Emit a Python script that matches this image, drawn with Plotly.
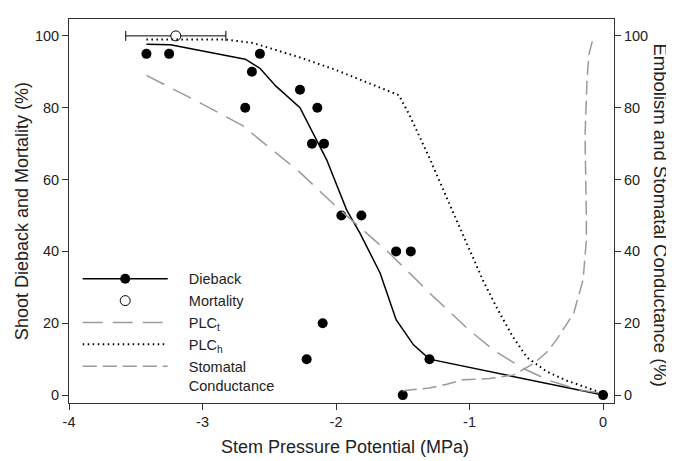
import plotly.graph_objects as go

# Dieback observations
dieback_x = [-3.42, -3.25, -2.68, -2.63, -2.57, -2.27, -2.18, -2.14, -2.09, -2.22, -2.10,
             -1.96, -1.81, -1.55, -1.44, -1.50, -1.30, 0.0]
dieback_y = [95, 95, 80, 90, 95, 85, 70, 80, 70, 10, 20, 50, 50, 40, 40, 0, 10, 0]

# Dieback fitted curve
fit_x = [-3.42, -3.24, -2.68, -2.57, -2.45, -2.27, -2.07, -1.92, -1.82, -1.67, -1.55, -1.42, -1.30, 0.0]
fit_y = [97.7, 97.5, 93.5, 91.0, 86.0, 80.0, 65.5, 51.5, 45.0, 34.0, 21.0, 14.0, 10.0, 0.0]

# Mortality (mean +/- error)
mort_x = [-3.20]
mort_y = [100]
mort_err = [0.375]

# PLC_t
plct_x = [-3.42, -3.0, -2.7, -2.5, -2.27, -2.0, -1.8, -1.6, -1.27, -1.0, -0.8, -0.6, -0.4, -0.17, 0.0]
plct_y = [89, 81, 75, 69, 62, 52.5, 46, 39.5, 27.4, 18, 12, 7.5, 4, 1.4, 0.5]

# PLC_h
plch_x = [-3.42, -2.83, -2.62, -2.27, -2.0, -1.67, -1.53, -1.45, -1.3, -1.16, -1.02, -0.9, -0.8,
          -0.68, -0.57, -0.42, -0.27, -0.12, 0.0]
plch_y = [99, 99, 98, 94, 90.5, 85.5, 83.5, 78, 66, 54, 42, 32, 24.6, 16.5, 10.5, 6.5, 4, 2, 0.5]

# Stomatal conductance
gs_x = [-1.50, -1.30, -1.17, -1.05, -0.85, -0.67, -0.52, -0.42, -0.35, -0.22, -0.15, -0.125,
        -0.125, -0.135, -0.12, -0.105, -0.07]
gs_y = [1.2, 2.0, 3.0, 4.3, 4.6, 5.6, 8.8, 12, 15.3, 22.8, 32, 43, 50, 72, 88, 95, 100]

x_ticks = [-4, -3, -2, -1, 0]
x_tick_labels = ["-4", "-3", "-2", "-1", "0"]
y_ticks = [0, 20, 40, 60, 80, 100]
y_tick_labels = ["0", "20", "40", "60", "80", "100"]

GRAY = "#9a9a9a"
AX = "#333333"
FONT = "Liberation Sans, Arial, sans-serif"
NB = "\u00a0" * 4

fig = go.Figure()

# legend-only entry for Dieback (line + filled marker)
fig.add_trace(go.Scatter(x=[None], y=[None], mode="lines+markers", name=NB + "Dieback",
                         line=dict(color="black", width=1.5),
                         marker=dict(color="black", size=10)))
fig.add_trace(go.Scatter(x=fit_x, y=fit_y, mode="lines", showlegend=False,
                         line=dict(color="black", width=1.5)))
fig.add_trace(go.Scatter(x=dieback_x, y=dieback_y, mode="markers", showlegend=False,
                         marker=dict(color="black", size=10)))
fig.add_trace(go.Scatter(x=mort_x, y=mort_y, mode="markers", name=NB + "Mortality",
                         marker=dict(color="white", size=10, line=dict(color="black", width=1)),
                         error_x=dict(type="data", array=mort_err, color="black", thickness=1, width=5)))
fig.add_trace(go.Scatter(x=plct_x, y=plct_y, mode="lines", name=NB + "PLC<sub>t</sub>",
                         line=dict(color=GRAY, width=1.5, dash="20px,10px"), yaxis="y2"))
fig.add_trace(go.Scatter(x=plch_x, y=plch_y, mode="lines", name=NB + "PLC<sub>h</sub>",
                         line=dict(color="black", width=2, dash="1.5px,3.5px"), yaxis="y2"))
fig.add_trace(go.Scatter(x=gs_x, y=gs_y, mode="lines", name=NB + "Stomatal<br>" + NB + "Conductance",
                         line=dict(color=GRAY, width=1.5, dash="14px,6px"), yaxis="y2"))

yr = [-2.2, 104.7]
fig.update_layout(
    width=666, height=453,
    margin=dict(l=61, r=60, t=11, b=58),
    paper_bgcolor="white", plot_bgcolor="white",
    font=dict(family=FONT, size=14, color="#222222"),
    showlegend=True,
    legend=dict(x=0.016, y=0.365, xanchor="left", yanchor="top", bgcolor="rgba(0,0,0,0)",
                itemwidth=85, valign="top", font=dict(size=14.5), tracegroupgap=0),
    xaxis=dict(range=[-4, 0.082], tickvals=x_ticks, ticktext=x_tick_labels, ticks="outside",
               ticklen=6, tickcolor=AX, showline=True, linecolor=AX, linewidth=1, mirror=True,
               showgrid=False, zeroline=False, tickfont=dict(size=14.5)),
    yaxis=dict(range=yr, tickvals=y_ticks, ticktext=y_tick_labels, ticks="outside", ticklen=6,
               tickcolor=AX, showline=True, linecolor=AX, linewidth=1, mirror=True, showgrid=False,
               zeroline=False, tickfont=dict(size=14.5)),
    yaxis2=dict(range=yr, tickvals=y_ticks, ticktext=y_tick_labels, ticks="outside", ticklen=6,
                tickcolor=AX, overlaying="y", side="right", showline=True, linecolor=AX, linewidth=1,
                showgrid=False, zeroline=False, tickfont=dict(size=14.5)),
    annotations=[
        dict(text="Stem Pressure Potential (MPa)", xref="paper", yref="paper", x=0.506, y=-0.115,
             xanchor="center", yanchor="middle", showarrow=False, font=dict(size=18)),
        dict(text="Shoot Dieback and Mortality (%)", xref="paper", yref="paper", x=-0.086, y=0.5,
             xanchor="center", yanchor="middle", textangle=-90, showarrow=False, font=dict(size=18)),
        dict(text="Embolism and Stomatal Conductance (%)", xref="paper", yref="paper", x=1.085, y=0.49,
             xanchor="center", yanchor="middle", textangle=90, showarrow=False, font=dict(size=18.5)),
    ],
)

fig.write_html("out.html")
